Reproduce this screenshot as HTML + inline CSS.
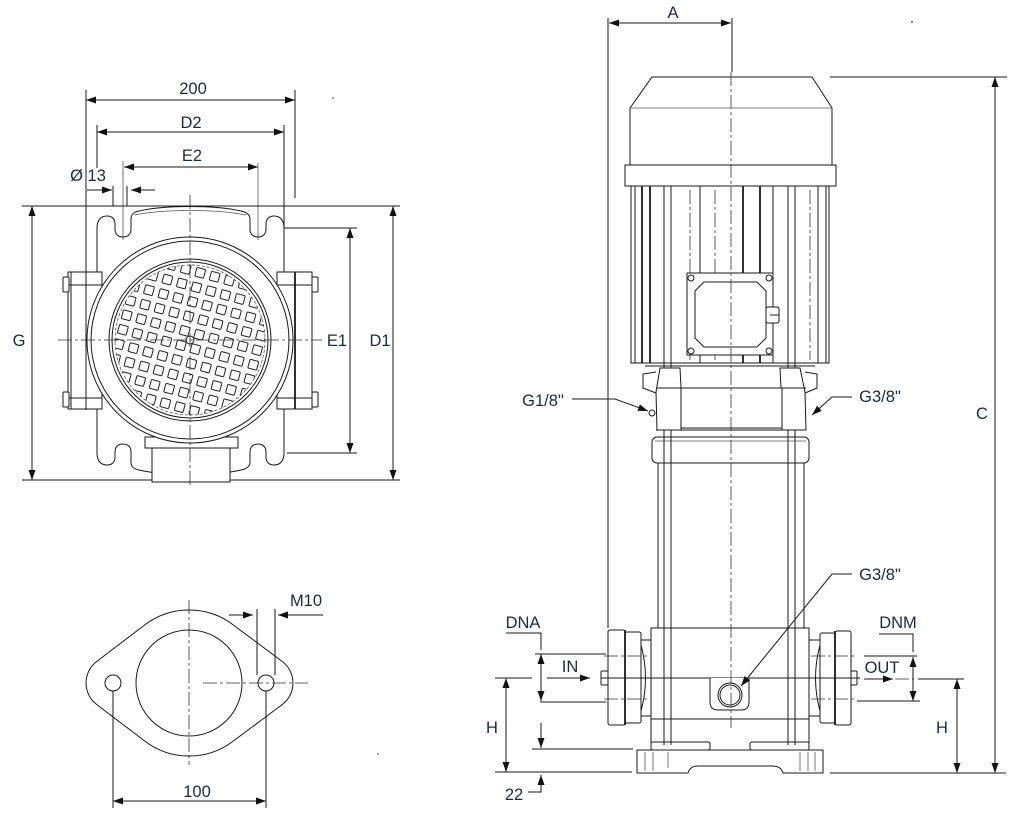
<!DOCTYPE html>
<html><head><meta charset="utf-8"><style>
html,body{margin:0;padding:0;background:#fff;}
svg{display:block;}
text{font-family:"Liberation Sans",sans-serif;font-size:16.5px;fill:#1b2b40;text-anchor:middle;}
.l{stroke:#1a1a1a;stroke-width:1;fill:none;}
.t{stroke:#1a1a1a;stroke-width:1.8;fill:none;}
.g{stroke:#555;stroke-width:0.8;fill:none;}
.c{stroke:#333;stroke-width:0.8;fill:none;stroke-dasharray:14,3,3,3;}
.w{stroke:#1a1a1a;stroke-width:1;fill:#fff;}
</style></head><body>
<svg width="1020" height="820" viewBox="0 0 1020 820" xmlns="http://www.w3.org/2000/svg">
<defs>
<marker id="m" viewBox="0 0 10 7" refX="10" refY="3.5" markerWidth="10" markerHeight="7" markerUnits="userSpaceOnUse" orient="auto-start-reverse"><path d="M0,0 L10,3.5 L0,7 Z" fill="#111"/></marker>
<pattern id="sq" patternUnits="userSpaceOnUse" width="15" height="15" patternTransform="translate(190,340) rotate(15)"><rect x="3" y="3" width="9" height="9" rx="1" fill="none" stroke="#222" stroke-width="1"/></pattern>
</defs>

<!-- ============ TOP-LEFT VIEW ============ -->
<line class="l" x1="86" y1="90" x2="86" y2="410"/>
<line class="l" x1="295" y1="90" x2="295" y2="198"/>
<line class="l" x1="86" y1="100" x2="295" y2="100" marker-start="url(#m)" marker-end="url(#m)"/>
<text x="193" y="94">200</text>
<line class="l" x1="97" y1="125" x2="97" y2="168"/>
<line class="l" x1="284" y1="125" x2="284" y2="228"/>
<line class="l" x1="97" y1="132" x2="284" y2="132" marker-start="url(#m)" marker-end="url(#m)"/>
<text x="191" y="128">D2</text>
<line class="g" x1="123" y1="161" x2="123" y2="240"/>
<line class="g" x1="258" y1="163" x2="258" y2="240"/>
<line class="l" x1="124" y1="167" x2="258" y2="167" marker-start="url(#m)" marker-end="url(#m)"/>
<text x="192" y="161">E2</text>
<text x="88" y="181">Ø 13</text>
<line class="l" x1="87" y1="190" x2="112" y2="190" marker-end="url(#m)"/>
<line class="l" x1="113" y1="186" x2="113" y2="206"/>
<line class="l" x1="127" y1="186" x2="127" y2="206"/>
<line class="l" x1="155" y1="190" x2="131" y2="190" marker-end="url(#m)"/>
<line class="l" x1="22" y1="206" x2="400" y2="206"/>
<line class="l" x1="22" y1="480" x2="400" y2="480"/>
<line class="l" x1="32" y1="206" x2="32" y2="480" marker-start="url(#m)" marker-end="url(#m)"/>
<text x="19" y="346">G</text>
<line class="l" x1="393" y1="206" x2="393" y2="480" marker-start="url(#m)" marker-end="url(#m)"/>
<text x="380" y="346">D1</text>
<line class="l" x1="284" y1="228" x2="357" y2="228"/>
<line class="l" x1="287" y1="453" x2="357" y2="453"/>
<line class="l" x1="350" y1="228" x2="350" y2="453" marker-start="url(#m)" marker-end="url(#m)"/>
<text x="337" y="346">E1</text>

<path class="l" d="M97,272 L97,228 C97,220 101,216 107,216 C112,216 115,219 115,224 L115,229 C115,234 118,237 123,237 C128,237 131,234 131,229 L131,219 C131,214 134,212 139,211 C165,205 215,205 241,211 C246,212 250,214 250,219 L250,229 C250,234 253,237 258,237 C263,237 266,234 266,229 L266,224 C266,219 269,216 274,216 C280,216 284,220 284,228 L284,272"/>
<path class="g" d="M134,215 C165,209 215,209 246,215"/>
<g transform="translate(0,681) scale(1,-1)">
<path class="l" d="M97,272 L97,228 C97,220 101,216 107,216 C112,216 115,219 115,224 L115,229 C115,234 118,237 123,237 C128,237 131,234 131,229 L131,219 C131,214 134,212 139,211 C165,205 215,205 241,211 C246,212 250,214 250,219 L250,229 C250,234 253,237 258,237 C263,237 266,234 266,229 L266,224 C266,219 269,216 274,216 C280,216 284,220 284,228 L284,272"/>
</g>
<rect class="l" x="68" y="272" width="34" height="137"/>
<line class="l" x1="71" y1="272" x2="71" y2="409"/>
<line class="l" x1="63" y1="285" x2="102" y2="285"/>
<line class="l" x1="63" y1="398" x2="102" y2="398"/>
<rect class="w" x="63" y="277" width="6" height="15" rx="1"/>
<rect class="w" x="63" y="392" width="6" height="15" rx="1"/>
<rect class="l" x="277" y="272" width="35" height="137"/>
<line class="t" x1="295" y1="272" x2="295" y2="409"/>
<line class="l" x1="277" y1="285" x2="318" y2="285"/>
<line class="l" x1="277" y1="398" x2="318" y2="398"/>
<rect class="w" x="312" y="277" width="6" height="15" rx="1"/>
<rect class="w" x="312" y="392" width="6" height="15" rx="1"/>
<path class="w" d="M145,437 L238,437 L238,448 L230,448 L230,482 L152,482 L152,448 L145,448 Z"/>
<line class="l" x1="152" y1="448" x2="230" y2="448"/>
<circle class="w" cx="190" cy="340" r="103"/>
<circle class="l" cx="190" cy="340" r="99"/>
<circle class="l" cx="190" cy="340" r="81"/>
<circle class="l" cx="190" cy="340" r="78"/>
<circle cx="190" cy="340" r="75" fill="url(#sq)" stroke="#444" stroke-width="0.7" stroke-dasharray="3,2"/>
<circle class="l" cx="190" cy="340" r="4"/>
<line class="c" x1="190" y1="195" x2="190" y2="488"/>
<line class="c" x1="58" y1="340" x2="322" y2="340"/>

<!-- ============ LOWER-LEFT FLANGE ============ -->
<path class="l" d="M144.8,624.9 A73,73 0 0 1 233.2,624.9 L282.3,661.5 A27,27 0 0 1 282.3,704.5 L233.2,741.1 A73,73 0 0 1 144.8,741.1 L96.7,704.5 A27,27 0 0 1 96.7,661.5 Z"/>
<circle class="l" cx="189" cy="683" r="53"/>
<circle class="l" cx="113" cy="683" r="8"/>
<circle class="l" cx="266" cy="683" r="8"/>
<line class="c" x1="189" y1="600" x2="189" y2="765"/>
<line class="c" x1="203" y1="683" x2="308" y2="683"/>
<text x="306" y="606">M10</text>
<line class="l" x1="229" y1="615" x2="253" y2="615" marker-end="url(#m)"/>
<line class="l" x1="257" y1="609" x2="257" y2="675"/>
<line class="l" x1="275" y1="609" x2="275" y2="675"/>
<line class="l" x1="323" y1="615" x2="278" y2="615" marker-end="url(#m)"/>
<line class="l" x1="113" y1="691" x2="113" y2="808"/>
<line class="l" x1="266" y1="691" x2="266" y2="808"/>
<line class="l" x1="113" y1="801" x2="266" y2="801" marker-start="url(#m)" marker-end="url(#m)"/>
<text x="197" y="797">100</text>

<!-- ============ RIGHT PUMP VIEW ============ -->
<line class="l" x1="608" y1="18" x2="608" y2="628"/>
<line class="l" x1="732" y1="18" x2="732" y2="72"/>
<line class="l" x1="609" y1="23" x2="731" y2="23" marker-start="url(#m)" marker-end="url(#m)"/>
<text x="673" y="18">A</text>
<line class="l" x1="830" y1="77" x2="1007" y2="77"/>
<line class="l" x1="995" y1="77" x2="995" y2="773" marker-start="url(#m)" marker-end="url(#m)"/>
<text x="982" y="419">C</text>
<line class="l" x1="830" y1="773" x2="1006" y2="773"/>

<path class="w" d="M652,77 L812,77 L832,108 L832,165 L630,165 L630,108 Z"/>
<line class="g" x1="630" y1="108" x2="832" y2="108"/>
<rect class="w" x="625" y="165" width="211" height="21"/>
<rect class="w" x="631" y="186" width="198" height="177"/>
<g class="l">
<line x1="635" y1="186" x2="635" y2="363"/>
<line x1="700" y1="186" x2="700" y2="363"/>
<line x1="773" y1="186" x2="773" y2="363"/>
<line x1="818" y1="186" x2="818" y2="363"/>
<line x1="826" y1="186" x2="826" y2="363"/>
</g>
<g class="t">
<line x1="642" y1="186" x2="642" y2="363"/>
<line x1="650" y1="186" x2="650" y2="363"/>
<line x1="743" y1="186" x2="743" y2="363"/>
<line x1="760" y1="186" x2="760" y2="363"/>
</g>
<g class="c">
<line x1="690" y1="190" x2="690" y2="360"/>
<line x1="715" y1="190" x2="715" y2="360"/>
<line x1="810" y1="190" x2="810" y2="360"/>
</g>
<g class="l">
<line x1="664" y1="186" x2="664" y2="745"/>
<line x1="671" y1="186" x2="671" y2="745"/>
<line x1="788" y1="186" x2="788" y2="745"/>
<line x1="795" y1="186" x2="795" y2="745"/>
</g>
<rect class="w" x="687" y="273" width="86" height="82"/>
<path class="l" d="M704,282 L757,282 L766,291 L766,338 L757,347 L704,347 L695,338 L695,291 Z"/>
<circle class="l" cx="691" cy="278" r="3"/>
<circle class="l" cx="769" cy="278" r="3"/>
<circle class="l" cx="691" cy="351" r="3"/>
<circle class="l" cx="769" cy="351" r="3"/>
<rect class="w" x="766" y="307" width="13" height="16" rx="2"/>
<line class="l" x1="770" y1="315" x2="779" y2="315"/>

<line class="l" x1="631" y1="363" x2="829" y2="363"/>
<line class="l" x1="645" y1="366" x2="815" y2="366"/>
<path class="w" d="M660,368 L680,368 L681,388 L681,430 L657,430 L656,392 Z"/>
<path class="l" d="M656,372 L643,374 L643,388 L656,393"/>
<path class="w" d="M780,368 L800,368 L805,392 L806,430 L782,430 L781,388 Z"/>
<path class="l" d="M805,372 L817,374 L817,388 L805,393"/>
<rect class="w" x="681" y="388" width="101" height="40"/>
<line class="l" x1="657" y1="388" x2="681" y2="388"/>
<line class="l" x1="781" y1="388" x2="806" y2="388"/>
<line class="l" x1="656" y1="430" x2="806" y2="430"/>
<circle class="l" cx="652" cy="413" r="3"/>
<rect class="w" x="652" y="437" width="157" height="26" rx="5"/>
<line class="g" x1="655" y1="441" x2="806" y2="441"/>
<line class="l" x1="658" y1="463" x2="658" y2="628"/>
<line class="l" x1="804" y1="463" x2="804" y2="628"/>
<g class="l">
<line x1="664" y1="437" x2="664" y2="745"/>
<line x1="671" y1="437" x2="671" y2="745"/>
<line x1="788" y1="437" x2="788" y2="745"/>
<line x1="795" y1="437" x2="795" y2="745"/>
</g>
<rect class="l" x="651" y="628" width="158" height="91"/>
<line class="l" x1="645" y1="678" x2="813" y2="678"/>
<line class="l" x1="651" y1="719" x2="651" y2="743"/>
<line class="l" x1="809" y1="719" x2="809" y2="743"/>
<path class="w" d="M710,678 L710,702 Q710,710 718,710 L741,710 Q749,710 749,702 L749,678"/>
<circle class="l" cx="730" cy="695" r="12"/>
<circle class="l" cx="730" cy="695" r="10"/>
<rect class="l" x="651" y="742" width="59" height="8" rx="2"/>
<rect class="l" x="750" y="742" width="59" height="8" rx="2"/>
<path class="w" d="M637,750 L823,750 L823,773 L783,773 Q781,766 772,766 L698,766 Q690,766 688,773 L637,773 Z"/>
<g class="g">
<line x1="645" y1="752" x2="645" y2="771"/>
<line x1="653" y1="752" x2="653" y2="771"/>
<line x1="668" y1="752" x2="668" y2="768"/>
<line x1="800" y1="752" x2="800" y2="771"/>
<line x1="808" y1="752" x2="808" y2="771"/>
<line x1="815" y1="752" x2="815" y2="771"/>
</g>
<path class="w" d="M641,645 Q650,678 641,711"/>
<line class="l" x1="641" y1="640" x2="651" y2="640"/>
<line class="l" x1="641" y1="716" x2="651" y2="716"/>
<rect class="w" x="608" y="630" width="17" height="95" rx="2"/>
<rect class="w" x="625" y="632" width="16" height="91" rx="2"/>
<line class="t" x1="625" y1="630" x2="625" y2="725"/>
<rect class="w" x="601" y="671" width="7" height="14" rx="1"/>
<path class="w" d="M820,645 Q811,678 820,711"/>
<line class="l" x1="809" y1="640" x2="820" y2="640"/>
<line class="l" x1="809" y1="716" x2="820" y2="716"/>
<rect class="w" x="820" y="633" width="15" height="90" rx="2"/>
<rect class="w" x="835" y="631" width="16" height="94" rx="2"/>
<line class="t" x1="835" y1="631" x2="835" y2="725"/>
<rect class="w" x="851" y="671" width="6" height="14" rx="1"/>
<g class="c">
<line x1="604" y1="656" x2="650" y2="656"/>
<line x1="604" y1="699" x2="650" y2="699"/>
<line x1="811" y1="656" x2="857" y2="656"/>
<line x1="811" y1="699" x2="857" y2="699"/>
<line x1="895" y1="679" x2="914" y2="679"/>
</g>
<line class="l" x1="601" y1="678" x2="651" y2="678"/>
<line class="l" x1="809" y1="678" x2="860" y2="678"/>
<line class="c" x1="731" y1="72" x2="731" y2="728"/>

<text x="543" y="406">G1/8"</text>
<polyline class="l" points="572,399 615,399 648,411" marker-end="url(#m)"/>
<text x="880" y="402">G3/8"</text>
<polyline class="l" points="852,397 832,397 812,415" marker-end="url(#m)"/>
<text x="880" y="580">G3/8"</text>
<polyline class="l" points="852,574 832,574 741,686" marker-end="url(#m)"/>

<text x="523" y="628">DNA</text>
<polyline class="l" points="506,633 541,633 541,650"/>
<line class="l" x1="535" y1="654" x2="606" y2="654"/>
<line class="l" x1="541" y1="654" x2="541" y2="701" marker-start="url(#m)" marker-end="url(#m)"/>
<line class="l" x1="540" y1="702" x2="606" y2="702"/>
<text x="570" y="672">IN</text>
<line class="l" x1="547" y1="678" x2="590" y2="678" marker-end="url(#m)"/>
<line class="l" x1="495" y1="678" x2="532" y2="678"/>
<line class="l" x1="506" y1="678" x2="506" y2="772" marker-start="url(#m)" marker-end="url(#m)"/>
<text x="492" y="733">H</text>
<line class="l" x1="541" y1="723" x2="541" y2="748" marker-end="url(#m)"/>
<line class="l" x1="532" y1="749" x2="633" y2="749"/>
<line class="l" x1="495" y1="772" x2="632" y2="772"/>
<polyline class="l" points="528,792 541,792 541,775" marker-end="url(#m)"/>
<text x="514" y="800">22</text>

<text x="898" y="628">DNM</text>
<polyline class="l" points="879,634 913,634 913,652"/>
<line class="l" x1="864" y1="656" x2="917" y2="656"/>
<line class="l" x1="913" y1="657" x2="913" y2="701" marker-start="url(#m)" marker-end="url(#m)"/>
<line class="l" x1="857" y1="701" x2="920" y2="701"/>
<text x="882" y="673">OUT</text>
<line class="l" x1="864" y1="679" x2="893" y2="679" marker-end="url(#m)"/>
<line class="l" x1="918" y1="679" x2="964" y2="679"/>
<line class="l" x1="957" y1="679" x2="957" y2="773" marker-start="url(#m)" marker-end="url(#m)"/>
<text x="942" y="733">H</text>

<circle cx="912" cy="22" r="0.9" fill="#333"/>
<circle cx="333" cy="98" r="0.8" fill="#333"/>
<circle cx="378" cy="754" r="0.8" fill="#333"/>
</svg>
</body></html>
